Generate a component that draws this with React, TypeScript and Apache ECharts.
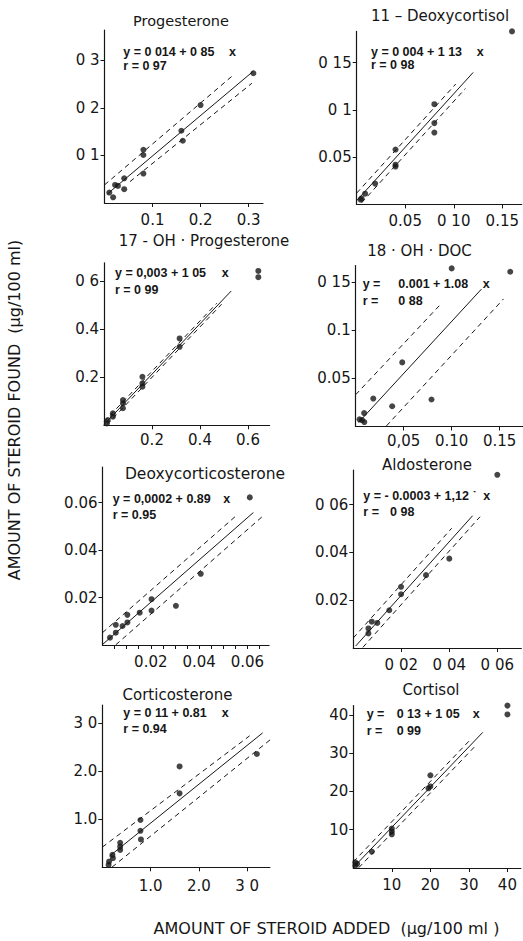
import { useEffect, useRef } from "react";
import * as echarts from "echarts";

// ---------- data ----------
const progesteronePoints = [[0.31, 0.273], [0.2, 0.206], [0.16, 0.152], [0.163, 0.131], [0.081, 0.112], [0.081, 0.101], [0.081, 0.062], [0.041, 0.052], [0.041, 0.029], [0.022, 0.038], [0.028, 0.036], [0.01, 0.022], [0.018, 0.012]];
const deoxycortisolPoints = [[0.16, 0.183], [0.08, 0.106], [0.08, 0.086], [0.08, 0.076], [0.04, 0.058], [0.04, 0.042], [0.04, 0.04], [0.019, 0.022], [0.0087, 0.0113], [0.005, 0.0063], [0.004, 0.005]];
const ohProgesteronePoints = [[0.643, 0.643], [0.643, 0.617], [0.315, 0.362], [0.315, 0.327], [0.16, 0.202], [0.16, 0.175], [0.16, 0.161], [0.079, 0.105], [0.079, 0.091], [0.079, 0.071], [0.037, 0.05], [0.037, 0.036], [0.016, 0.022], [0.012, 0.008]];
const ohDocPoints = [[0.1, 0.164], [0.161, 0.1605], [0.0485, 0.0665], [0.0183, 0.029], [0.038, 0.021], [0.079, 0.028], [0.0088, 0.0139], [0.004, 0.0074], [0.0066, 0.0067], [0.009, 0.0046]];
const docPoints = [[0.061, 0.0622], [0.0407, 0.03], [0.0304, 0.0165], [0.0203, 0.0193], [0.0203, 0.0145], [0.0154, 0.0136], [0.0103, 0.0127], [0.0103, 0.0095], [0.0083, 0.008], [0.0055, 0.0085], [0.0055, 0.0052], [0.0031, 0.0031]];
const aldosteronePoints = [[0.06, 0.0725], [0.04, 0.0374], [0.0303, 0.0305], [0.0199, 0.0256], [0.0199, 0.0225], [0.015, 0.0158], [0.01, 0.0105], [0.0077, 0.011], [0.0063, 0.0082], [0.0063, 0.0061]];
const corticosteronePoints = [[3.2, 2.36], [1.6, 2.1], [1.6, 1.54], [0.79, 0.985], [0.79, 0.76], [0.8, 0.58], [0.37, 0.51], [0.37, 0.43], [0.37, 0.36], [0.21, 0.26], [0.22, 0.19], [0.14, 0.12], [0.13, 0.05]];
const cortisolPoints = [[40, 42.4], [40, 40.1], [20, 24.2], [20, 21.3], [19.5, 20.8], [10, 10.3], [10, 8.8], [10, 9.5], [4.8, 4.3], [0.5, 1.5], [0.5, 0.6], [1, 1.1]];

// lines: [intercept, slope, xStart, xEnd]
const progesteroneFit = [0.014, 0.85, 0.005, 0.31];
const progesteroneUpper = [0.038, 0.862, 0, 0.268];
const progesteroneLower = [0.0018, 0.815, 0.053, 0.307];
const deoxycortisolFit = [0.004, 1.13, 0, 0.12];
const deoxycortisolUpper = [0.012, 1.13, 0, 0.102];
const deoxycortisolLower = [-0.004, 1.13, 0.005, 0.112];
const ohProgesteroneFit = [0.003, 1.05, 0, 0.53];
const ohProgesteroneUpper = [0.015, 1.05, 0, 0.47];
const ohProgesteroneLower = [-0.01, 1.05, 0.012, 0.49];
const ohDocFit = [0.001, 1.08, 0.003, 0.131];
const ohDocUpper = [0.033, 1.06, 0, 0.088];
const ohDocLower = [-0.034, 1.08, 0.032, 0.154];
const docFit = [0.0002, 0.89, 0, 0.0625];
const docUpper = [0.0052, 0.89, 0, 0.0552];
const docLower = [-0.0048, 0.89, 0.0055, 0.0662];
const aldosteroneFit = [-0.0003, 1.12, 0.001, 0.0497];
const aldosteroneUpper = [0.0042, 1.12, 0, 0.041];
const aldosteroneLower = [-0.0042, 1.12, 0.004, 0.0528];
const corticosteroneFit = [0.11, 0.81, 0.15, 3.32];
const corticosteroneUpper = [0.42, 0.76, 0, 3.05];
const corticosteroneLower = [-0.16, 0.81, 0.2, 3.53];
const cortisolFit = [0.13, 1.05, 0, 33.6];
const cortisolUpper = [1.6, 1.05, 0, 30.3];
const cortisolLower = [-1.4, 1.05, 1.4, 32];

// tick values and labels
const progesteroneTicks = [0.1, 0.2, 0.3];
const progesteroneXLabels = ["0.1", "0.2", "0.3"];
const progesteroneYLabels = ["0 1", "0 2", "0 3"];
const deoxycortisolTicks = [0.05, 0.1, 0.15];
const deoxycortisolXLabels = ["0.05", "0 10", "0.15"];
const deoxycortisolYLabels = ["0.05", "0 1", "0 15"];
const ohProgesteroneTicks = [0.2, 0.4, 0.6];
const ohProgesteroneXLabels = ["0.2", "0.4", "0.6"];
const ohProgesteroneYLabels = ["0.2", "0.4", "0 6"];
const ohDocTicks = [0.05, 0.1, 0.15];
const ohDocXLabels = ["0,05", "0.10", "0.15"];
const ohDocYLabels = ["0.05", "0.1", "0 15"];
const docTicks = [0.02, 0.04, 0.06];
const docXTickMarks = [0.005, 0.01, 0.015, 0.02, 0.025, 0.03, 0.035, 0.04, 0.045, 0.05, 0.055, 0.06, 0.065];
const docXLabels = ["0.02", "0.04", "0.06"];
const docYLabels = ["0.02", "0.04", "0.06"];
const aldosteroneTicks = [0.02, 0.04, 0.06];
const aldosteroneXLabels = ["0 02", "0 04", "0 06"];
const aldosteroneYLabels = ["0.02", "0.04", "0 06"];
const corticosteroneTicks = [1, 2, 3];
const corticosteroneXLabels = ["1.0", "2.0", "3 0"];
const corticosteroneYLabels = ["1.0", "2.0", "3 0"];
const cortisolTicks = [10, 20, 30, 40];
const cortisolXLabels = ["10", "20", "30", "40"];
const cortisolYLabels = ["10", "20", "30", "40"];

// ---------- layout ----------
const INK = "#161616";
const FONT = "'DejaVu Sans', 'Liberation Sans', sans-serif";
const EQ_FONT = "'Liberation Sans', Arial, sans-serif";

const panels = [
  { name: "Progesterone", pts: progesteronePoints, fit: progesteroneFit, up: progesteroneUpper, lo: progesteroneLower, xMax: 0.33, yMax: 0.364, xt: progesteroneTicks, xl: progesteroneXLabels, yt: progesteroneTicks, yl: progesteroneYLabels, g: [104.5, 30, 158.5, 173], xMargin: 9 },
  { name: "11 – Deoxycortisol", pts: deoxycortisolPoints, fit: deoxycortisolFit, up: deoxycortisolUpper, lo: deoxycortisolLower, xMax: 0.17, yMax: 0.183, xt: deoxycortisolTicks, xl: deoxycortisolXLabels, yt: deoxycortisolTicks, yl: deoxycortisolYLabels, g: [356.7, 31.4, 165, 173], xMargin: 9 },
  { name: "17 - OH · Progesterone", pts: ohProgesteronePoints, fit: ohProgesteroneFit, up: ohProgesteroneUpper, lo: ohProgesteroneLower, xMax: 0.69, yMax: 0.677, xt: ohProgesteroneTicks, xl: ohProgesteroneXLabels, yt: ohProgesteroneTicks, yl: ohProgesteroneYLabels, g: [104, 262.8, 165.6, 162.5], xMargin: 7 },
  { name: "18 · OH · DOC", pts: ohDocPoints, fit: ohDocFit, up: ohDocUpper, lo: ohDocLower, xMax: 0.174, yMax: 0.167, xt: ohDocTicks, xl: ohDocXLabels, yt: ohDocTicks, yl: ohDocYLabels, g: [355.7, 265.5, 167, 161], xMargin: 7 },
  { name: "Deoxycorticosterone", pts: docPoints, fit: docFit, up: docUpper, lo: docLower, xMax: 0.069, yMax: 0.075, xt: docTicks, xtm: docXTickMarks, xl: docXLabels, yt: docTicks, yl: docYLabels, g: [102.5, 467, 166.6, 178], xMargin: 9 },
  { name: "Aldosterone", pts: aldosteronePoints, fit: aldosteroneFit, up: aldosteroneUpper, lo: aldosteroneLower, xMax: 0.07, yMax: 0.0745, xt: aldosteroneTicks, xl: aldosteroneXLabels, yt: aldosteroneTicks, yl: aldosteroneYLabels, g: [353.3, 470, 168, 178], xMargin: 9 },
  { name: "Corticosterone", pts: corticosteronePoints, fit: corticosteroneFit, up: corticosteroneUpper, lo: corticosteroneLower, xMax: 3.47, yMax: 3.38, xt: corticosteroneTicks, xl: corticosteroneXLabels, yt: corticosteroneTicks, yl: corticosteroneYLabels, g: [102.3, 705, 167.6, 162.3], xMargin: 11 },
  { name: "Cortisol", pts: cortisolPoints, fit: cortisolFit, up: cortisolUpper, lo: cortisolLower, xMax: 43.5, yMax: 42.4, xt: cortisolTicks, xl: cortisolXLabels, yt: cortisolTicks, yl: cortisolYLabels, g: [353.3, 705.6, 167.6, 162.4], xMargin: 9 },
];

// titles: [text, centerX, centerY, fontSize]
const titleLayout: [string, number, number, number][] = [
  ["Progesterone", 181, 20.5, 14.5],
  ["11 – Deoxycortisol", 440, 15.5, 15],
  ["17 - OH · Progesterone", 204, 241, 15],
  ["18 · OH · DOC", 419.5, 251, 15],
  ["Deoxycorticosterone", 205, 474, 15.5],
  ["Aldosterone", 427, 464.5, 15],
  ["Corticosterone", 177.5, 694.5, 15],
  ["Cortisol", 431, 690, 15],
];

// equation pieces: [text, leftX, centerY]
const equationLayout: [string, number, number][] = [
  ["y = 0 014 + 0 85", 123.3, 52], ["x", 229, 52], ["r = 0 97", 123.3, 66],
  ["y = 0 004 + 1 13", 371, 52], ["x", 476.7, 52], ["r = 0 98", 371, 65],
  ["y = 0,003 + 1 05", 115, 273.3], ["x", 221.7, 273.3], ["r = 0 99", 115, 290],
  ["y =", 362.7, 284], ["0.001 + 1.08", 398.3, 284], ["x", 482.7, 284], ["r =", 362.7, 300.7], ["0 88", 398.3, 300.7],
  ["y = 0,0002 + 0.89", 112.7, 499.3], ["x", 223.3, 499.3], ["r = 0.95", 112.7, 515],
  ["y = - 0.0003 + 1,12 ˙", 363.3, 496], ["x", 483.3, 496], ["r =", 363.3, 511.7], ["0 98", 390, 511.7],
  ["y = 0 11 + 0.81", 123.3, 713.3], ["x", 221.7, 713.3], ["r = 0.94", 123.3, 729.3],
  ["y =", 366.7, 714], ["0 13 + 1 05", 396.7, 714], ["x", 472.7, 714], ["r =", 366.7, 730.7], ["0 99", 396.7, 730.7],
];

const yAxisTitle = "AMOUNT OF STEROID FOUND  (µg/100 ml)";
const xAxisTitle = "AMOUNT OF STEROID ADDED  (µg/100 ml )";

function lineData(p: number[]) {
  const [a, b, x0, x1] = p;
  return [[x0, a + b * x0], [x1, a + b * x1]];
}

function labelFormatter(ticks: number[], labels: string[]) {
  return (v: number) => {
    const i = ticks.findIndex((t) => Math.abs(t - v) < 1e-9 * Math.max(1, Math.abs(t)) + 1e-12);
    return i >= 0 ? labels[i] : "";
  };
}

function buildOption() {
  const grid: any[] = [];
  const xAxis: any[] = [];
  const yAxis: any[] = [];
  const series: any[] = [];
  panels.forEach((p, i) => {
    const [left, top, width, height] = p.g;
    grid.push({ left, top, width, height, containLabel: false });
    xAxis.push({
      type: "value", gridIndex: i, min: 0, max: p.xMax,
      axisLine: { show: true, onZero: false, lineStyle: { color: INK, width: 1.2 } },
      axisTick: { show: true, length: 4, customValues: (p as any).xtm || p.xt, lineStyle: { color: INK, width: 1 } },
      axisLabel: { show: true, customValues: p.xt, formatter: labelFormatter(p.xt, p.xl), color: INK, fontFamily: FONT, fontSize: 15, margin: p.xMargin },
      splitLine: { show: false },
    });
    yAxis.push({
      type: "value", gridIndex: i, min: 0, max: p.yMax,
      axisLine: { show: true, onZero: false, lineStyle: { color: INK, width: 1.2 } },
      axisTick: { show: true, length: 4, customValues: p.yt, lineStyle: { color: INK, width: 1 } },
      axisLabel: { show: true, customValues: p.yt, formatter: labelFormatter(p.yt, p.yl), color: INK, fontFamily: FONT, fontSize: 15, margin: 5 },
      splitLine: { show: false },
    });
    series.push({
      type: "scatter", xAxisIndex: i, yAxisIndex: i, data: p.pts, symbol: "circle", symbolSize: 6,
      itemStyle: { color: INK }, clip: false, silent: true,
    });
    const lineBase = { type: "line", xAxisIndex: i, yAxisIndex: i, symbol: "none", showSymbol: false, clip: false, silent: true };
    series.push({ ...lineBase, data: lineData(p.fit), lineStyle: { color: INK, width: 1 } });
    series.push({ ...lineBase, data: lineData(p.up), lineStyle: { color: INK, width: 1, type: [5, 4] } });
    series.push({ ...lineBase, data: lineData(p.lo), lineStyle: { color: INK, width: 1, type: [5, 4] } });
  });

  const graphic: any[] = [];
  titleLayout.forEach(([text, x, y, size]) => {
    graphic.push({ type: "text", x, y, silent: true, style: { text, fill: INK, font: `${size}px ${FONT}`, textAlign: "center", textVerticalAlign: "middle" } });
  });
  equationLayout.forEach(([text, x, y]) => {
    graphic.push({ type: "text", x, y, silent: true, style: { text, fill: INK, font: `bold 12.5px ${EQ_FONT}`, textAlign: "left", textVerticalAlign: "middle" } });
  });
  graphic.push({ type: "text", x: 14, y: 410, rotation: Math.PI / 2, silent: true, style: { text: yAxisTitle, fill: INK, font: `16px ${FONT}`, textAlign: "center", textVerticalAlign: "middle" } });
  graphic.push({ type: "text", x: 326.5, y: 928, silent: true, style: { text: xAxisTitle, fill: INK, font: `16px ${FONT}`, textAlign: "center", textVerticalAlign: "middle" } });

  return { animation: false, backgroundColor: "#ffffff", grid, xAxis, yAxis, series, graphic };
}

export default function App() {
  const ref = useRef<HTMLDivElement>(null);
  useEffect(() => {
    if (!ref.current) return;
    const chart = echarts.init(ref.current, undefined, { renderer: "svg" });
    chart.setOption(buildOption() as any);
    return () => chart.dispose();
  }, []);
  return <div ref={ref} style={{ position: "fixed", left: 0, top: 0, width: 523, height: 941, background: "#fff" }} />;
}
